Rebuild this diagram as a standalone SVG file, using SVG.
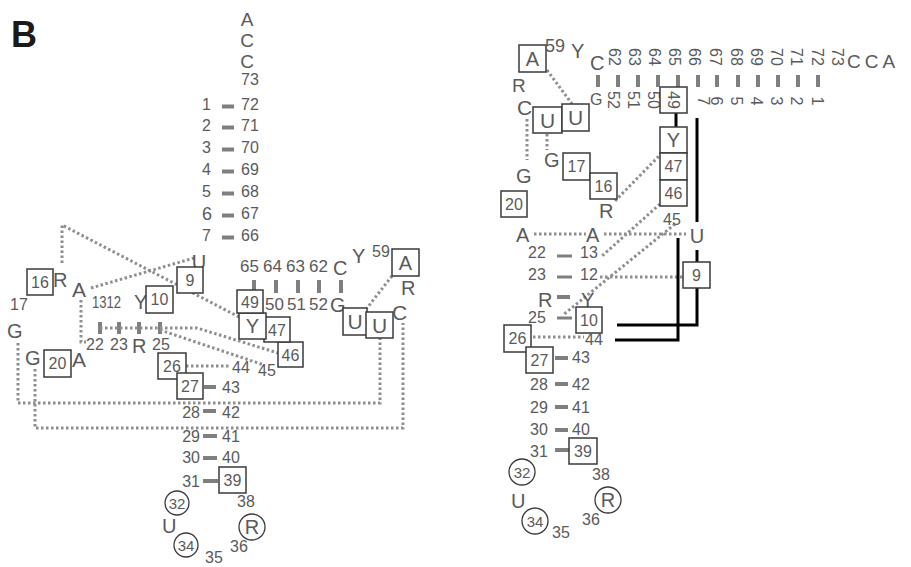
<svg xmlns="http://www.w3.org/2000/svg" width="911" height="567" viewBox="0 0 911 567">
<style>
text{font-family:"Liberation Sans",Arial,sans-serif;fill:#5a5a5a;font-size:16px}
.l{font-size:20px}
.s{font-size:19px}
.m{text-anchor:middle}
.e{text-anchor:end}
.bx{fill:#fff;stroke:#3a3a3a;stroke-width:1.5}
.ci{fill:#fff;stroke:#3a3a3a;stroke-width:1.3}
.dt{fill:none;stroke:#8e8e8e;stroke-width:3;stroke-dasharray:2.5 2.5}
.bar{stroke:#7f7f7f;stroke-width:4}
.ds{stroke:#7f7f7f;stroke-width:4}
.bk{fill:none;stroke:#000;stroke-width:3}
</style>
<rect width="911" height="567" fill="#fff"/>
<text x="11" y="47" font-weight="bold" style="fill:#1a1a1a;font-size:36px">B</text>

<g id="connectors">
 <g class="ds">
  <line x1="222" y1="106.5" x2="234" y2="106.5"/>
  <line x1="222" y1="127.5" x2="234" y2="127.5"/>
  <line x1="222" y1="149.5" x2="234" y2="149.5"/>
  <line x1="222" y1="171.5" x2="234" y2="171.5"/>
  <line x1="222" y1="193.5" x2="234" y2="193.5"/>
  <line x1="222" y1="215.5" x2="234" y2="215.5"/>
  <line x1="222" y1="237.5" x2="234" y2="237.5"/>
  <line x1="204" y1="387" x2="216" y2="387"/>
  <line x1="203" y1="411" x2="216" y2="411"/>
  <line x1="203" y1="436" x2="217" y2="436"/>
  <line x1="203" y1="458" x2="217" y2="458"/>
  <line x1="203" y1="481" x2="218" y2="481"/>
 </g>
 <g class="bar">
  <line x1="254" y1="280" x2="254" y2="293"/>
  <line x1="276" y1="280" x2="276" y2="293"/>
  <line x1="298" y1="280" x2="298" y2="293"/>
  <line x1="319" y1="280" x2="319" y2="293"/>
  <line x1="341" y1="280" x2="341" y2="293"/>
  <line x1="100" y1="322" x2="100" y2="334"/>
  <line x1="119" y1="322" x2="119" y2="334"/>
  <line x1="139" y1="322" x2="139" y2="334"/>
  <line x1="160" y1="322" x2="160" y2="334"/>
 </g>
 <g class="dt">
  <polyline points="62,263 62,225 241,318"/>
  <line x1="91" y1="288" x2="194" y2="258"/>
  <polyline points="81,300 81,342 86,342"/>
  <polyline points="100,328 197,328 278,353"/>
  <line x1="160" y1="330" x2="264" y2="365"/>
  <polyline points="18,343 18,403 380,403 380,338"/>
  <polyline points="35,369 35,428 403,428 403,323"/>
  <line x1="186" y1="366" x2="231" y2="366"/>
  <line x1="392" y1="276" x2="367" y2="308"/>
 </g>
 <g class="bar">
  <line x1="598" y1="75" x2="598" y2="87"/>
  <line x1="618" y1="75" x2="618" y2="87"/>
  <line x1="638" y1="75" x2="638" y2="87"/>
  <line x1="658" y1="75" x2="658" y2="87"/>
  <line x1="678" y1="75" x2="678" y2="87"/>
  <line x1="698" y1="75" x2="698" y2="87"/>
  <line x1="717" y1="75" x2="717" y2="87"/>
  <line x1="738" y1="75" x2="738" y2="87"/>
  <line x1="758" y1="75" x2="758" y2="87"/>
  <line x1="778" y1="75" x2="778" y2="87"/>
  <line x1="798" y1="75" x2="798" y2="87"/>
  <line x1="818" y1="75" x2="818" y2="87"/>
 </g>
 <g class="ds">
  <line x1="557" y1="256" x2="572" y2="256" style="stroke-width:3"/>
  <line x1="557" y1="277" x2="572" y2="277" style="stroke-width:3"/>
  <line x1="557" y1="297" x2="570" y2="297"/>
  <line x1="557" y1="318" x2="572" y2="318" style="stroke-width:3"/>
  <line x1="555" y1="358" x2="568" y2="358"/>
  <line x1="555" y1="384" x2="568" y2="384"/>
  <line x1="555" y1="407" x2="568" y2="407"/>
  <line x1="555" y1="430" x2="568" y2="430"/>
  <line x1="555" y1="450" x2="569" y2="450"/>
 </g>
 <g class="dt">
  <line x1="547" y1="70" x2="572" y2="104"/>
  <line x1="527" y1="119" x2="527" y2="160"/>
  <line x1="547" y1="134" x2="547" y2="150"/>
  <line x1="615" y1="201" x2="660" y2="155"/>
  <line x1="534" y1="234" x2="586" y2="234"/>
  <line x1="604" y1="234" x2="686" y2="234"/>
  <line x1="660" y1="204" x2="602" y2="256"/>
  <line x1="675" y1="224" x2="563" y2="315"/>
  <line x1="600" y1="277" x2="683" y2="277"/>
  <line x1="533" y1="337" x2="584" y2="337"/>
 </g>
 <g class="bk">
  <line x1="676" y1="113" x2="676" y2="127"/>
  <line x1="697" y1="118" x2="697" y2="222"/>
  <line x1="697" y1="250" x2="697" y2="262"/>
  <polyline points="697,288 697,325 617,325"/>
  <polyline points="678,238 678,340 615,340"/>
 </g>
</g>

<!-- LEFT DIAGRAM NODES -->
<g id="L-acc">
 <text class="s m" x="247" y="26">A</text>
 <text class="s m" x="247" y="47">C</text>
 <text class="s m" x="247" y="68">C</text>
 <text x="241" y="85">73</text>
</g>
<g id="L-acceptor-stem">
 <text class="e" x="211" y="110">1</text><text x="241" y="110">72</text>
 <text class="e" x="211" y="131">2</text><text x="241" y="131">71</text>
 <text class="e" x="211" y="153">3</text><text x="241" y="153">70</text>
 <text class="e" x="211" y="175">4</text><text x="241" y="175">69</text>
 <text class="e" x="211" y="197">5</text><text x="241" y="197">68</text>
 <text class="e" x="212" y="220" style="font-size:18px">6</text><text x="241" y="219">67</text>
 <text class="e" x="211" y="241">7</text><text x="241" y="241">66</text>
</g>
<g id="L-U8"><text class="l m" x="199" y="269">U</text></g>
<g id="L-9"><rect class="bx" x="177" y="267" width="26" height="26"/><text class="m" x="190" y="286">9</text></g>
<g id="L-16"><rect class="bx" x="27" y="269" width="26" height="26"/><text class="m" x="40" y="288">16</text></g>
<g id="L-R"><text class="l" x="53" y="287">R</text></g>
<g id="L-17"><text x="10" y="310">17</text></g>
<g id="L-A14"><text class="l" x="72" y="297" style="font-size:21px">A</text></g>
<g id="L-1312"><text x="92" y="308" textLength="29" lengthAdjust="spacingAndGlyphs">1312</text></g>
<g id="L-Y11"><text class="l" x="134" y="309">Y</text></g>
<g id="L-10"><rect class="bx" x="146" y="286" width="27" height="27"/><text class="m" x="159.5" y="305">10</text></g>
<g id="L-22"><text x="86" y="350">22</text></g>
<g id="L-23"><text x="110" y="350">23</text></g>
<g id="L-R24"><text class="l" x="132" y="353">R</text></g>
<g id="L-25"><text x="152" y="350">25</text></g>
<g id="L-G18"><text class="l" x="7" y="338">G</text></g>
<g id="L-G19"><text class="l" x="25" y="365">G</text></g>
<g id="L-20"><rect class="bx" x="44" y="350" width="27" height="27"/><text class="m" x="57.5" y="369">20</text></g>
<g id="L-A21"><text class="l" x="72" y="367" style="font-size:21px">A</text></g>
<g id="L-26"><rect class="bx" x="158" y="353" width="28" height="26"/><text class="m" x="172" y="372">26</text></g>
<g id="L-27"><rect class="bx" x="177" y="373" width="26" height="26"/><text class="m" x="190" y="392">27</text></g>
<g id="L-44"><text x="232" y="373">44</text></g>
<g id="L-43"><text x="222" y="393">43</text></g>
<g id="L-45"><text x="258" y="376">45</text></g>
<g id="L-46"><rect class="bx" x="278" y="342" width="25" height="25"/><text class="m" x="290.5" y="360.5">46</text></g>
<g id="L-47"><rect class="bx" x="264" y="317" width="26" height="25"/><text class="m" x="277" y="335.5">47</text></g>
<g id="L-Y48"><rect class="bx" x="239" y="313" width="27" height="26"/><text class="l m" x="252.5" y="333">Y</text></g>
<g id="L-49"><rect class="bx" x="237" y="290" width="26" height="23"/><text class="m" x="250" y="307.5">49</text></g>
<g id="L-Tstem">
 <text x="240" y="272" style="font-size:17px">65</text><text x="263" y="272" style="font-size:17px">64</text><text x="286" y="272" style="font-size:17px">63</text><text x="309" y="272" style="font-size:17px">62</text>
 <text class="l" x="333" y="275">C</text>
 <text x="265" y="310" style="font-size:17px">50</text><text x="287" y="310" style="font-size:17px">51</text><text x="309" y="310" style="font-size:17px">52</text>
 <text class="l" x="330" y="312">G</text>
</g>
<g id="L-Y60"><text class="l" x="352" y="263">Y</text></g>
<g id="L-59"><text x="372" y="257">59</text></g>
<g id="L-A58"><rect class="bx" x="392" y="249" width="27" height="27"/><text class="l m" x="405.5" y="270">A</text></g>
<g id="L-R57"><text class="l" x="401" y="295">R</text></g>
<g id="L-U54"><rect class="bx" x="343" y="308" width="24" height="27"/><text class="l m" x="355" y="329" style="font-size:21px">U</text></g>
<g id="L-U55"><rect class="bx" x="366" y="312" width="27" height="26"/><text class="l m" x="379.5" y="332.5" style="font-size:21px">U</text></g>
<g id="L-C56"><text class="l" x="392" y="320" style="font-size:21px">C</text></g>
<g id="L-anticodon-stem">
 <text class="e" x="200" y="418">28</text><text x="222" y="418">42</text>
 <text class="e" x="200" y="442">29</text><text x="222" y="442">41</text>
 <text class="e" x="200" y="463">30</text><text x="222" y="463">40</text>
 <text class="e" x="200" y="487">31</text>
</g>
<g id="L-39"><rect class="bx" x="219" y="467" width="27" height="26"/><text class="m" x="232.5" y="486">39</text></g>
<g id="L-38"><text x="237" y="507">38</text></g>
<g id="L-32"><circle class="ci" cx="177" cy="503" r="12"/><text class="m" x="177" y="508.5" style="font-size:15px">32</text></g>
<g id="L-U33"><text class="l" x="162" y="533">U</text></g>
<g id="L-34"><circle class="ci" cx="186" cy="545" r="12"/><text class="m" x="186" y="550.5" style="font-size:15px">34</text></g>
<g id="L-35"><text x="205" y="563">35</text></g>
<g id="L-R37"><circle class="ci" cx="252" cy="527" r="13"/><text class="l m" x="252" y="534">R</text></g>
<g id="L-36"><text x="230" y="552">36</text></g>

<!-- RIGHT DIAGRAM NODES -->
<g id="R-A58"><rect class="bx" x="519" y="45" width="27" height="27"/><text class="l m" x="532.5" y="66">A</text></g>
<g id="R-59"><text x="545" y="52" style="font-size:18px">59</text></g>
<g id="R-Y60"><text class="l" x="571" y="58">Y</text></g>
<g id="R-C61"><text class="l" x="590" y="70">C</text></g>
<g id="R-top-strand">
 <text class="m" x="615" y="62.7" transform="rotate(90 615 57)">62</text>
 <text class="m" x="635" y="62.7" transform="rotate(90 635 57)">63</text>
 <text class="m" x="655" y="62.7" transform="rotate(90 655 57)">64</text>
 <text class="m" x="675" y="62.7" transform="rotate(90 675 57)">65</text>
 <text class="m" x="695" y="62.7" transform="rotate(90 695 57)">66</text>
 <text class="m" x="716" y="62.7" transform="rotate(90 716 57)">67</text>
 <text class="m" x="737" y="62.7" transform="rotate(90 737 57)">68</text>
 <text class="m" x="757" y="62.7" transform="rotate(90 757 57)">69</text>
 <text class="m" x="777" y="62.7" transform="rotate(90 777 57)">70</text>
 <text class="m" x="797" y="62.7" transform="rotate(90 797 57)">71</text>
 <text class="m" x="818" y="62.7" transform="rotate(90 818 57)">72</text>
 <text class="m" x="838" y="62.7" transform="rotate(90 838 57)">73</text>
 <text x="847" y="68" style="font-size:19px;letter-spacing:4px">CCA</text>
</g>
<g id="R-bottom-strand">
 <text x="590" y="105">G</text>
 <text class="m" x="614" y="105.7" transform="rotate(90 614 100)">52</text>
 <text class="m" x="634" y="105.7" transform="rotate(90 634 100)">51</text>
 <text class="m" x="654" y="105.7" transform="rotate(90 654 100)">50</text>
 <text class="m" x="704" y="106.7" transform="rotate(90 704 101)">7</text>
 <text class="m" x="717" y="106.7" transform="rotate(90 717 101)">6</text>
 <text class="m" x="737" y="106.7" transform="rotate(90 737 101)">5</text>
 <text class="m" x="757" y="106.7" transform="rotate(90 757 101)">4</text>
 <text class="m" x="777" y="106.7" transform="rotate(90 777 101)">3</text>
 <text class="m" x="797" y="106.7" transform="rotate(90 797 101)">2</text>
 <text class="m" x="818" y="106.7" transform="rotate(90 818 101)">1</text>
</g>
<g id="R-49"><rect class="bx" x="660" y="87" width="27" height="26"/><text class="m" x="673.5" y="105.7" transform="rotate(90 673.5 100)">49</text></g>
<g id="R-Y48"><rect class="bx" x="660" y="127" width="27" height="26"/><text class="l m" x="673.5" y="147">Y</text></g>
<g id="R-47"><rect class="bx" x="660" y="153" width="27" height="27"/><text class="m" x="673.5" y="172">47</text></g>
<g id="R-46"><rect class="bx" x="660" y="180" width="27" height="26"/><text class="m" x="673.5" y="198.5">46</text></g>
<g id="R-45"><text x="663" y="225">45</text></g>
<g id="R-U8"><text class="l m" x="697" y="243">U</text></g>
<g id="R-9"><rect class="bx" x="683" y="262" width="27" height="26"/><text class="m" x="696.5" y="281">9</text></g>
<g id="R-R57"><text class="l" x="512" y="92" style="font-size:19px">R</text></g>
<g id="R-C56"><text class="l" x="517" y="115" style="font-size:21px">C</text></g>
<g id="R-U55"><rect class="bx" x="533" y="107" width="29" height="26"/><text class="l m" x="547.5" y="128" style="font-size:21px">U</text></g>
<g id="R-U54"><rect class="bx" x="562" y="104" width="27" height="27"/><text class="l m" x="575.5" y="125" style="font-size:21px">U</text></g>
<g id="R-G19"><text class="l" x="516" y="183">G</text></g>
<g id="R-G18"><text class="l" x="544" y="167">G</text></g>
<g id="R-17"><rect class="bx" x="563" y="153" width="27" height="27"/><text class="m" x="576.5" y="172">17</text></g>
<g id="R-16"><rect class="bx" x="590" y="173" width="27" height="26"/><text class="m" x="603.5" y="191.5">16</text></g>
<g id="R-R15"><text class="l" x="599" y="218">R</text></g>
<g id="R-20"><rect class="bx" x="501" y="191" width="26" height="26"/><text class="m" x="514" y="210">20</text></g>
<g id="R-A21"><text class="l" x="516" y="242">A</text></g>
<g id="R-A14"><text class="l" x="586" y="242">A</text></g>
<g id="R-D-stem">
 <text x="528" y="258">22</text><text x="580" y="258">13</text>
 <text x="528" y="280">23</text><text x="580" y="280">12</text>
 <text class="l" x="538" y="307">R</text><text class="l" x="581" y="307">Y</text>
 <text x="528" y="323">25</text>
</g>
<g id="R-10"><rect class="bx" x="576" y="307" width="26" height="26"/><text class="m" x="589" y="326">10</text></g>
<g id="R-26"><rect class="bx" x="504" y="325" width="27" height="27"/><text class="m" x="517.5" y="344">26</text></g>
<g id="R-44"><text x="585" y="345">44</text></g>
<g id="R-27"><rect class="bx" x="526" y="347" width="27" height="26"/><text class="m" x="539.5" y="366">27</text></g>
<g id="R-anticodon-stem">
 <text x="572" y="363">43</text>
 <text x="530" y="390">28</text><text x="572" y="390">42</text>
 <text x="530" y="413">29</text><text x="572" y="413">41</text>
 <text x="530" y="435">30</text><text x="572" y="435">40</text>
 <text x="530" y="457">31</text>
</g>
<g id="R-39"><rect class="bx" x="569" y="438" width="28" height="26"/><text class="m" x="583" y="457">39</text></g>
<g id="R-38"><text x="592" y="480">38</text></g>
<g id="R-32"><circle class="ci" cx="522" cy="472" r="13"/><text class="m" x="522" y="477.5" style="font-size:15px">32</text></g>
<g id="R-U33"><text class="l" x="511" y="508">U</text></g>
<g id="R-34"><circle class="ci" cx="535" cy="521" r="13"/><text class="m" x="535" y="526.5" style="font-size:15px">34</text></g>
<g id="R-35"><text x="552" y="538">35</text></g>
<g id="R-R37"><circle class="ci" cx="608" cy="500" r="13"/><text class="l m" x="608" y="507">R</text></g>
<g id="R-36"><text x="582" y="525">36</text></g>
</svg>
